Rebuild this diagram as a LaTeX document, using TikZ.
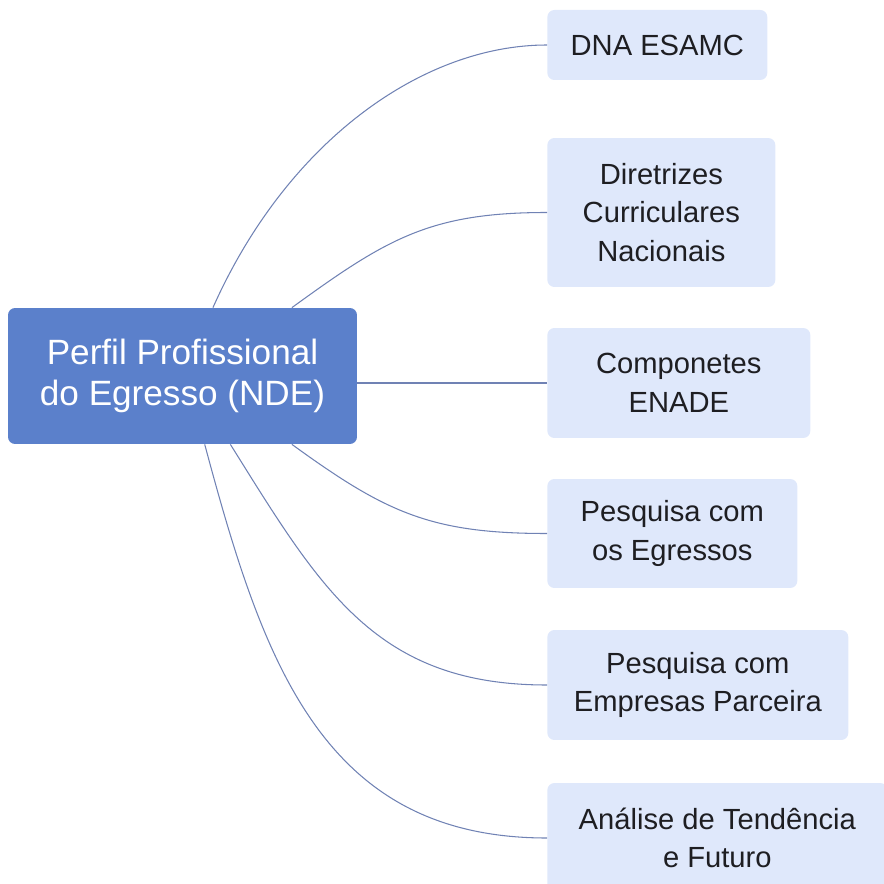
\documentclass[tikz,border=0pt]{standalone}
\usepackage{fontspec}
\setmainfont{Liberation Sans}
\definecolor{rootblue}{RGB}{91,128,203}
\definecolor{leafblue}{RGB}{223,232,251}
\definecolor{linkblue}{RGB}{112,130,180}
\definecolor{textdark}{RGB}{30,30,34}
\begin{document}
\begin{tikzpicture}[x=0.02cm, y=-0.02cm,
  root/.style={fill=rootblue, rounded corners=4pt, text=white, align=center, inner sep=0pt,
    minimum width=6.98cm, minimum height=2.72cm, font=\fontsize{20}{23}\selectfont},
  leaf/.style={fill=leafblue, rounded corners=4pt, text=textdark, align=center, inner sep=0pt,
    anchor=west, minimum height=2.2cm, font=\fontsize{16.6}{22}\selectfont},
  link/.style={draw=linkblue, line width=0.6pt, looseness=1.1}]
\clip (0,0) rectangle (884,884);
\node(root) at (182.5,376) [root]{Perfil Profissional\\do Egresso (NDE)};
\node(dna) at (547,45) [leaf, minimum width=4.4cm, minimum height=1.4cm]{DNA ESAMC};
\node(dcn) at (547,212.5) [leaf, minimum width=4.56cm, minimum height=2.98cm]{Diretrizes\\Curriculares\\Nacionais};
\node(enade) at (547,383) [leaf, minimum width=5.26cm]{Componetes\\ENADE};
\node(egr) at (547,533.5) [leaf, minimum width=5.0cm, minimum height=2.18cm]{Pesquisa com\\os Egressos};
\node(emp) at (547,685) [leaf, minimum width=6.02cm]{Pesquisa com\\Empresas Parceira};
\node(tend) at (547,838) [leaf, minimum width=6.8cm]{Análise de Tendência\\e Futuro};
\draw[link] (root.66) to[out=66, in=180, in looseness=0.75] (dna.west);
\draw[link] (root.32) to[out=36, in=180] (dcn.west);
\draw[link] (root.east |- enade.west) -- (enade.west);
\draw[link] (root.-32) to[out=-36, in=180] (egr.west);
\draw[link] (root.-55) to[out=-58, in=180] (emp.west);
\draw[link] (root.-72) to[out=-75, in=180] (tend.west);
\end{tikzpicture}
\end{document}
